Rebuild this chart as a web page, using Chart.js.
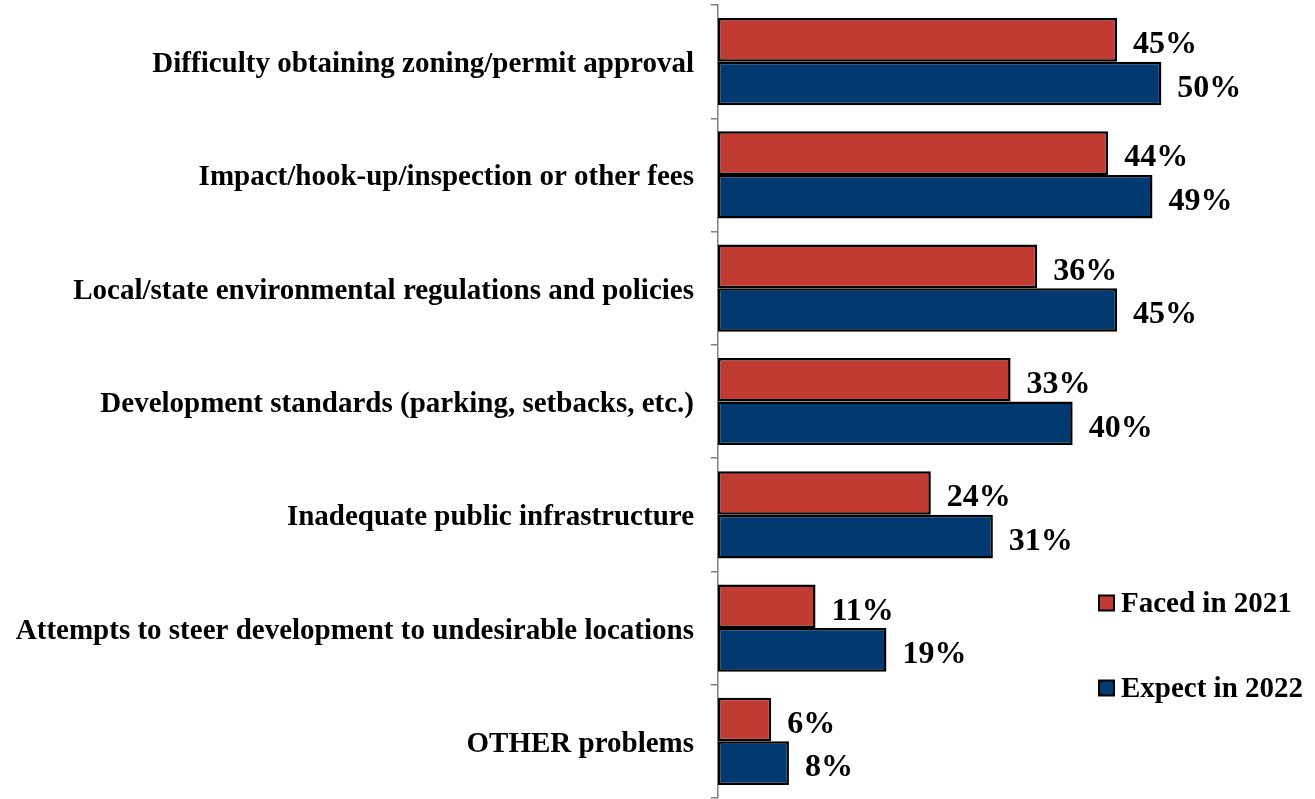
<!DOCTYPE html>
<html>
<head>
<meta charset="utf-8">
<script src="https://cdn.jsdelivr.net/npm/chart.js@4"></script>
<style>
  html, body { margin: 0; padding: 0; background: #fff; }
  #wrap { position: relative; width: 1315px; height: 799px; }
</style>
</head>
<body>
<div id="wrap"><canvas id="chart"></canvas></div>
<script>
const categories = [
  "Difficulty obtaining zoning/permit approval",
  "Impact/hook-up/inspection or other fees",
  "Local/state environmental regulations and policies",
  "Development standards (parking, setbacks, etc.)",
  "Inadequate public infrastructure",
  "Attempts to steer development to undesirable locations",
  "OTHER problems",
];
const faced2021 = [45, 44, 36, 33, 24, 11, 6];
const expect2022 = [50, 49, 45, 40, 31, 19, 8];
const seriesNames = ["Faced in 2021", "Expect in 2022"];

const RED = "#C23B33";
const NAVY = "#003A70";
const SERIF = "'Liberation Serif', 'Times New Roman', serif";

// Draw "NN%" to the right of each bar
const valueLabels = {
  id: "valueLabels",
  afterDatasetsDraw(chart) {
    const ctx = chart.ctx;
    ctx.save();
    ctx.font = "bold 32px " + SERIF;
    ctx.fillStyle = "#000";
    ctx.textAlign = "left";
    ctx.textBaseline = "middle";
    chart.data.datasets.forEach((ds, i) => {
      const meta = chart.getDatasetMeta(i);
      meta.data.forEach((bar, j) => {
        ctx.fillText(ds.data[j] + "%", bar.x + 16, bar.y + 5);
      });
    });
    ctx.restore();
  },
};

// Legend sitting inside the plot, lower right
const sideLegend = {
  id: "sideLegend",
  afterDraw(chart) {
    const ctx = chart.ctx;
    const rows = [603, 688];
    ctx.save();
    ctx.font = "bold 29px " + SERIF;
    ctx.textBaseline = "middle";
    ctx.textAlign = "left";
    chart.data.datasets.forEach((ds, i) => {
      const y = rows[i];
      ctx.fillStyle = ds.backgroundColor;
      ctx.fillRect(1099, y - 7.5, 15, 15);
      ctx.lineWidth = 2;
      ctx.strokeStyle = "#000";
      ctx.strokeRect(1099, y - 7.5, 15, 15);
      ctx.fillStyle = "#000";
      ctx.fillText(ds.label, 1121, y + 2);
    });
    ctx.restore();
  },
};

new Chart(document.getElementById("chart"), {
  type: "bar",
  data: {
    labels: categories,
    datasets: [
      {
        label: seriesNames[0],
        data: faced2021,
        backgroundColor: RED,
        borderColor: "#000",
        borderWidth: 2.5,
        borderSkipped: false,
        categoryPercentage: 0.77,
        barPercentage: 1.0,
      },
      {
        label: seriesNames[1],
        data: expect2022,
        backgroundColor: NAVY,
        borderColor: "#000",
        borderWidth: 2.5,
        borderSkipped: false,
        categoryPercentage: 0.77,
        barPercentage: 1.0,
      },
    ],
  },
  options: {
    indexAxis: "y",
    responsive: true,
    maintainAspectRatio: false,
    animation: false,
    layout: { padding: { top: 5, right: 65, bottom: 1, left: 0 } },
    scales: {
      x: {
        display: false,
        min: 0,
        max: 60,
      },
      y: {
        afterFit(scale) {
          scale.width = 718;
          scale.paddingTop = 0;
          scale.paddingBottom = 0;
        },
        grid: {
          drawOnChartArea: false,
          offset: true,
          tickLength: 7,
          color: "#808080",
          lineWidth: 1.5,
        },
        border: { display: true, color: "#808080", width: 1.5 },
        ticks: {
          padding: 17,
          labelOffset: 3,
          color: "#000",
          font: { family: SERIF, size: 29, weight: "bold" },
        },
      },
    },
    plugins: {
      legend: { display: false },
      tooltip: { enabled: false },
    },
  },
  plugins: [valueLabels, sideLegend],
});
</script>
</body>
</html>
